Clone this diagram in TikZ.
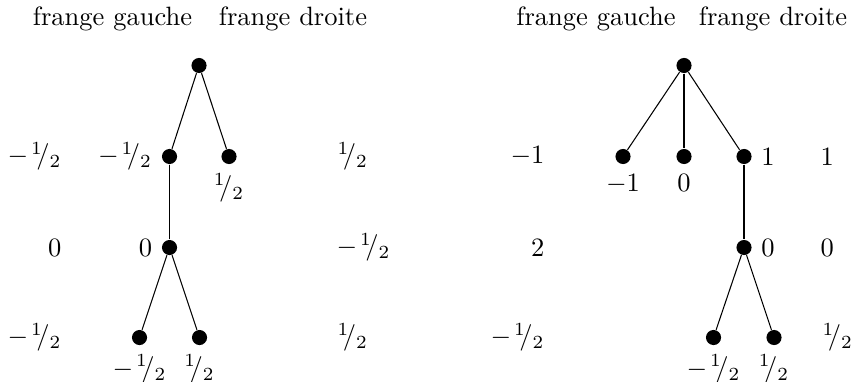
\documentclass[tikz,border=0pt]{standalone}
\usepackage{amsmath}
\usepackage{tikz}
\usetikzlibrary{positioning}
\newcommand{\demi}{{}^1\mskip-4.5mu/_2}
\newcommand{\mdemi}{-\mskip2mu{}^1\mskip-4.5mu/_2}

\begin{document}
\begin{tikzpicture}[
  x=0.3774pt, y=-0.3774pt,
  dot/.style={circle, fill=black, inner sep=0pt, minimum size=5.7pt},
  titre/.style={anchor=base},
  cotel/.style={anchor=east, inner sep=0pt},
  coter/.style={anchor=west, inner sep=0pt}
]
\useasboundingbox (0,0) rectangle (854,381);

% premier arbre
\node[titre] (tg1) at (112.5,26) {frange gauche};
\node[titre] (td1) at (293,26) {frange droite};

\node[dot] (a0) at (199,65.5) {};
\node[dot, label={left:$\mdemi$}] (a1) at (169.5,156.5) {};
\node[dot, label={below:$\demi$}] (a2) at (229,156.5) {};
\node[dot, label={left:$0$}] (a3) at (169.5,247.5) {};
\node[dot, label={below:$\mdemi$}] (a4) at (139.5,337.5) {};
\node[dot, label={below:$\demi$}] (a5) at (199.5,337.5) {};

\foreach \a/\b in {a0/a1, a0/a2, a1/a3, a3/a4, a3/a5}{
  \draw (\a) -- (\b);
}

\node[cotel] (ga1) at (62,156.5) {$\mdemi$};
\node[cotel] (ga2) at (62,247.5) {$0$};
\node[cotel] (ga3) at (62,337.5) {$\mdemi$};
\node[coter] (dr1) at (337,156.5) {$\demi$};
\node[coter] (dr2) at (336,247.5) {$\mdemi$};
\node[coter] (dr3) at (337,337.5) {$\demi$};

% second arbre
\node[titre] (tg2) at (596,26) {frange gauche};
\node[titre] (td2) at (773,26) {frange droite};

\node[dot] (b0) at (684,65.5) {};
\node[dot, label={below:$-1$}] (b1) at (623,156.5) {};
\node[dot, label={below:$0$}] (b2) at (684,156.5) {};
\node[dot, label={right:$1$}] (b3) at (744,156.5) {};
\node[dot, label={right:$0$}] (b4) at (744,247.5) {};
\node[dot, label={below:$\mdemi$}] (b5) at (713.5,337.5) {};
\node[dot, label={below:$\demi$}] (b6) at (774,337.5) {};

\foreach \a/\b in {b0/b1, b0/b2, b0/b3, b3/b4, b4/b5, b4/b6}{
  \draw (\a) -- (\b);
}

\node[cotel] (gb1) at (545,156.5) {$-1$};
\node[cotel] (gb2) at (545,247.5) {$2$};
\node[cotel] (gb3) at (545,337.5) {$\mdemi$};
\node[coter] (db1) at (820,156.5) {$1$};
\node[coter] (db2) at (820,247.5) {$0$};
\node[coter] (db3) at (822,337.5) {$\demi$};
\end{tikzpicture}
\end{document}
